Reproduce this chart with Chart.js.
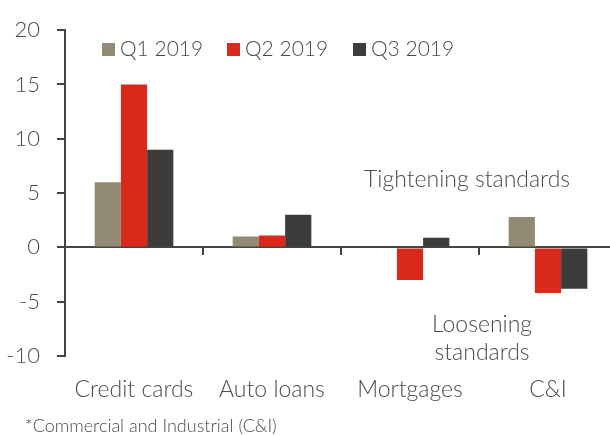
<!DOCTYPE html>
<html lang="en">
<head>
  <meta charset="UTF-8">
  <title>Lending standards</title>
  <script src="https://cdn.jsdelivr.net/npm/chart.js"></script>
  <style>
    html, body { margin: 0; padding: 0; overflow: hidden; background: #fff; }
    body { width: 610px; height: 435px; position: relative; font-family: 'Lato', 'Open Sans', sans-serif; font-weight: 300; color: #4a4a4a; }
    #wrap { position: absolute; left: 0; top: 0; width: 620px; height: 435px; }
    .note { position: absolute; font-size: 23px; line-height: 28px; white-space: nowrap; }
    .legend-item { position: absolute; top: 34px; font-size: 21px; line-height: 28px; white-space: nowrap; }
    .legend-item span.box { display: inline-block; width: 13px; height: 13px; margin-right: 5px; vertical-align: 0px; }
    #foot { position: absolute; left: 25px; top: 414px; font-size: 18px; white-space: nowrap; }
  </style>
</head>
<body>
  <div id="wrap"><canvas id="chart"></canvas></div>
  <div id="legend"></div>
  <div class="note" style="left:364px; top:164px;">Tightening standards</div>
  <div class="note" style="left:432px; top:309px; text-align:center;">Loosening<br>standards</div>
  <div id="foot">*Commercial and Industrial (C&amp;I)</div>

  <script>
    const categories = ['Credit cards', 'Auto loans', 'Mortgages', 'C&I'];
    const seriesNames = ['Q1 2019', 'Q2 2019', 'Q3 2019'];
    const q1 = [6, 1, 0, 2.8];
    const q2 = [15, 1.1, -3, -4.2];
    const q3 = [9, 3, 0.9, -3.8];
    const colors = ['#928a74', '#da291c', '#3c3c3c'];
    const yTicks = [-10, -5, 0, 5, 10, 15, 20];

    const axisColor = '#444';
    const textColor = '#4a4a4a';
    const fontFamily = "'Lato', 'Open Sans', sans-serif";

    // html legend
    const legendLeft = [102, 227, 353];
    const legend = document.getElementById('legend');
    seriesNames.forEach((name, i) => {
      const d = document.createElement('div');
      d.className = 'legend-item';
      d.style.left = legendLeft[i] + 'px';
      d.innerHTML = '<span class="box" style="background:' + colors[i] + '"></span>' + name;
      legend.appendChild(d);
    });

    const ctx = document.getElementById('chart').getContext('2d');
    new Chart(ctx, {
      type: 'bar',
      data: {
        labels: categories,
        datasets: [q1, q2, q3].map((vals, i) => ({
          label: seriesNames[i],
          data: vals,
          backgroundColor: colors[i],
          borderWidth: 0,
          categoryPercentage: 0.57,
          barPercentage: 1.0
        }))
      },
      options: {
        responsive: true,
        maintainAspectRatio: false,
        animation: false,
        layout: { padding: { top: 29, right: 3, left: 0, bottom: 0 } },
        plugins: { legend: { display: false }, tooltip: { enabled: false } },
        scales: {
          x: {
            position: 'bottom',
            grid: { display: false, drawTicks: false },
            border: { display: false },
            ticks: { color: textColor, font: { family: fontFamily, size: 23, weight: 300 }, padding: 20, maxRotation: 0 },
            afterFit: s => { s.height = 79; }
          },
          x2: {
            type: 'category',
            labels: categories,
            position: { y: 0 },
            offset: true,
            grid: { drawOnChartArea: false, offset: true, tickLength: 7, color: axisColor, lineWidth: 2 },
            border: { color: axisColor, width: 2 },
            ticks: { display: false }
          },
          y: {
            min: -10,
            max: 20,
            afterBuildTicks: s => { s.ticks = yTicks.map(v => ({ value: v })); },
            grid: { drawOnChartArea: false, tickLength: 8, color: axisColor, lineWidth: 2 },
            border: { color: axisColor, width: 2 },
            ticks: { color: textColor, font: { family: fontFamily, size: 22, weight: 300 }, padding: 17 },
            afterFit: s => { s.width = 65; }
          }
        }
      }
    });
  </script>
</body>
</html>
